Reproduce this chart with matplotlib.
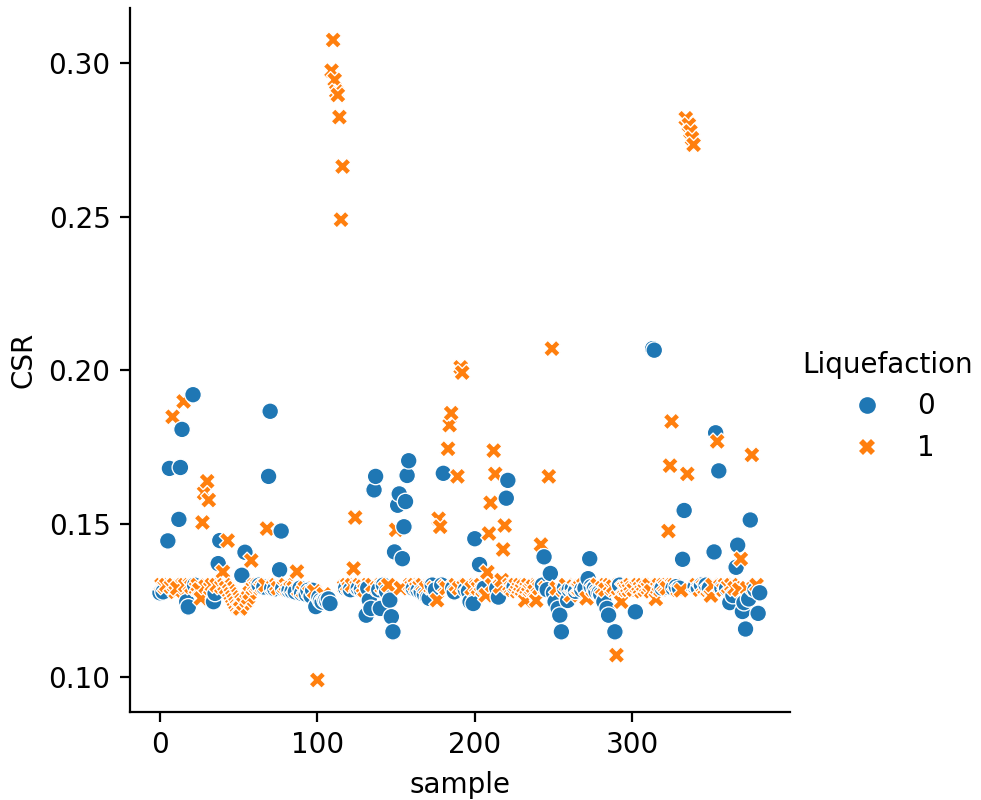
import matplotlib
matplotlib.use("Agg")
import matplotlib.pyplot as plt
import pandas as pd
import seaborn as sns

# CSR value for every sample (10 samples per row)
CSR = [
    0.1275, 0.1300, 0.1278, 0.1295, 0.1300, 0.1444, 0.1680, 0.1295, 0.1848, 0.1300,
    0.1278, 0.1290, 0.1514, 0.1683, 0.1807, 0.1898, 0.1300, 0.1246, 0.1229, 0.1300,
    0.1295, 0.1920, 0.1300, 0.1290, 0.1300, 0.1285, 0.1257, 0.1504, 0.1600, 0.1295,
    0.1638, 0.1577, 0.1290, 0.1300, 0.1246, 0.1273, 0.1300, 0.1370, 0.1445, 0.1295,
    0.1343, 0.1300, 0.1290, 0.1445, 0.1280, 0.1270, 0.1260, 0.1250, 0.1240, 0.1230,
    0.1224, 0.1224, 0.1332, 0.1240, 0.1407, 0.1250, 0.1260, 0.1275, 0.1380, 0.1290,
    0.1300, 0.1295, 0.1300, 0.1300, 0.1290, 0.1295, 0.1294, 0.1300, 0.1484, 0.1654,
    0.1866, 0.1290, 0.1295, 0.1288, 0.1300, 0.1290, 0.1350, 0.1476, 0.1289, 0.1295,
    0.1300, 0.1285, 0.1283, 0.1290, 0.1280, 0.1290, 0.1278, 0.1344, 0.1285, 0.1290,
    0.1273, 0.1280, 0.1290, 0.1270, 0.1283, 0.1275, 0.1265, 0.1283, 0.1280, 0.1230,
    0.0991, 0.1261, 0.1250, 0.1245, 0.1270, 0.1251, 0.1248, 0.1255, 0.1240, 0.2975,
    0.3075, 0.2945, 0.2907, 0.2896, 0.2824, 0.2490, 0.2663, 0.1295, 0.1290, 0.1300,
    0.1290, 0.1285, 0.1300, 0.1354, 0.1520, 0.1295, 0.1290, 0.1300, 0.1285, 0.1295,
    0.1283, 0.1202, 0.1290, 0.1251, 0.1224, 0.1300, 0.1610, 0.1654, 0.1290, 0.1285,
    0.1224, 0.1295, 0.1300, 0.1290, 0.1280, 0.1300, 0.1251, 0.1197, 0.1148, 0.1408,
    0.1480, 0.1560, 0.1597, 0.1290, 0.1386, 0.1490, 0.1572, 0.1657, 0.1705, 0.1300,
    0.1295, 0.1289, 0.1300, 0.1290, 0.1283, 0.1295, 0.1278, 0.1300, 0.1270, 0.1290,
    0.1260, 0.1257, 0.1295, 0.1300, 0.1290, 0.1285, 0.1251, 0.1516, 0.1490, 0.1300,
    0.1664, 0.1295, 0.1290, 0.1744, 0.1821, 0.1860, 0.1290, 0.1278, 0.1300, 0.1654,
    0.1290, 0.2009, 0.1992, 0.1295, 0.1285, 0.1300, 0.1280, 0.1246, 0.1290, 0.1240,
    0.1451, 0.1295, 0.1290, 0.1367, 0.1300, 0.1285, 0.1290, 0.1267, 0.1342, 0.1468,
    0.1568, 0.1300, 0.1738, 0.1662, 0.1290, 0.1261, 0.1295, 0.1316, 0.1416, 0.1494,
    0.1583, 0.1641, 0.1300, 0.1290, 0.1285, 0.1295, 0.1300, 0.1280, 0.1290, 0.1300,
    0.1285, 0.1295, 0.1250, 0.1290, 0.1300, 0.1285, 0.1290, 0.1295, 0.1280, 0.1250,
    0.1295, 0.1290, 0.1432, 0.1300, 0.1392, 0.1290, 0.1285, 0.1654, 0.1338, 0.2070,
    0.1275, 0.1246, 0.1290, 0.1224, 0.1202, 0.1148, 0.1285, 0.1290, 0.1300, 0.1250,
    0.1285, 0.1267, 0.1290, 0.1295, 0.1280, 0.1290, 0.1290, 0.1295, 0.1285, 0.1300,
    0.1290, 0.1257, 0.1321, 0.1386, 0.1295, 0.1285, 0.1290, 0.1280, 0.1300, 0.1275,
    0.1270, 0.1290, 0.1246, 0.1285, 0.1224, 0.1202, 0.1300, 0.1290, 0.1295, 0.1148,
    0.1072, 0.1290, 0.1300, 0.1246, 0.1290, 0.1290, 0.1285, 0.1295, 0.1285, 0.1300,
    0.1290, 0.1285, 0.1213, 0.1295, 0.1300, 0.1290, 0.1280, 0.1300, 0.1285, 0.1295,
    0.1290, 0.1300, 0.1280, 0.2070, 0.2065, 0.1255, 0.1290, 0.1300, 0.1285, 0.1290,
    0.1300, 0.1295, 0.1290, 0.1476, 0.1689, 0.1833, 0.1290, 0.1300, 0.1295, 0.1285,
    0.1290, 0.1283, 0.1384, 0.1543, 0.2820, 0.1662, 0.2799, 0.2777, 0.2755, 0.2734,
    0.1295, 0.1300, 0.1290, 0.1285, 0.1300, 0.1295, 0.1290, 0.1300, 0.1285, 0.1290,
    0.1266, 0.1300, 0.1408, 0.1796, 0.1768, 0.1672, 0.1295, 0.1290, 0.1285, 0.1300,
    0.1290, 0.1295, 0.1243, 0.1300, 0.1266, 0.1290, 0.1358, 0.1430, 0.1285, 0.1385,
    0.1214, 0.1243, 0.1157, 0.1290, 0.1255, 0.1512, 0.1724, 0.1290, 0.1285, 0.1300,
    0.1208, 0.1275,
]

# Liquefaction class per sample (0 = no, 1 = yes), same layout as CSR
LIQ = [
    0, 1, 0, 1, 1, 0, 0, 1, 1, 1,
    1, 1, 0, 0, 0, 1, 1, 0, 0, 1,
    1, 0, 0, 1, 1, 1, 1, 1, 1, 1,
    1, 1, 1, 1, 0, 0, 1, 0, 0, 1,
    1, 1, 1, 1, 1, 1, 1, 1, 1, 1,
    1, 1, 0, 1, 0, 1, 1, 1, 1, 1,
    1, 1, 1, 0, 1, 1, 0, 1, 1, 0,
    0, 0, 1, 0, 1, 1, 0, 0, 0, 1,
    1, 1, 0, 1, 0, 1, 0, 1, 1, 0,
    0, 1, 1, 0, 0, 1, 0, 0, 1, 0,
    1, 0, 0, 0, 1, 0, 0, 0, 0, 1,
    1, 1, 1, 1, 1, 1, 1, 1, 0, 1,
    1, 0, 1, 1, 1, 1, 0, 1, 0, 1,
    1, 0, 0, 0, 0, 1, 0, 0, 1, 0,
    0, 1, 0, 1, 0, 1, 0, 0, 0, 0,
    1, 0, 0, 1, 0, 0, 0, 0, 0, 1,
    1, 0, 1, 1, 0, 1, 0, 1, 0, 1,
    0, 0, 1, 0, 1, 0, 1, 1, 1, 0,
    0, 1, 1, 1, 1, 1, 0, 0, 1, 1,
    1, 1, 1, 1, 0, 1, 0, 0, 1, 0,
    0, 1, 1, 0, 1, 1, 0, 1, 1, 1,
    1, 1, 1, 1, 0, 0, 1, 1, 1, 1,
    0, 0, 1, 1, 1, 0, 1, 1, 1, 1,
    1, 1, 1, 1, 1, 1, 1, 1, 1, 1,
    1, 1, 1, 0, 0, 1, 0, 1, 0, 1,
    0, 0, 1, 0, 0, 0, 1, 0, 1, 0,
    0, 1, 0, 1, 0, 1, 1, 1, 0, 1,
    0, 1, 0, 0, 0, 1, 0, 0, 1, 0,
    0, 1, 0, 1, 0, 0, 1, 1, 1, 0,
    1, 1, 0, 1, 1, 1, 1, 1, 1, 1,
    1, 1, 0, 1, 1, 1, 1, 1, 1, 1,
    1, 1, 1, 0, 0, 1, 1, 1, 1, 0,
    1, 1, 1, 1, 1, 1, 0, 1, 0, 1,
    0, 1, 0, 0, 1, 1, 1, 1, 1, 1,
    0, 1, 0, 1, 0, 1, 1, 0, 1, 0,
    1, 1, 0, 0, 1, 0, 1, 0, 1, 1,
    0, 1, 0, 1, 0, 1, 0, 0, 1, 1,
    0, 0, 0, 1, 0, 0, 1, 1, 0, 1,
    0, 0,
]

df = pd.DataFrame({
    "sample": range(len(CSR)),
    "CSR": CSR,
    "Liquefaction": [str(v) for v in LIQ],
})

g = sns.relplot(data=df, x="sample", y="CSR", hue="Liquefaction",
                style="Liquefaction", hue_order=["0", "1"],
                style_order=["0", "1"], kind="scatter", height=4, aspect=1)

# 981 x 800 px at 200 dpi
g.figure.set_size_inches(981 / 200, 800 / 200)
g.figure.subplots_adjust(left=0.1325, right=0.805, bottom=0.11, top=0.99)
g.ax.set_xticks([0, 100, 200, 300])
g.ax.set_yticks([0.10, 0.15, 0.20, 0.25, 0.30])

# legend sits a little further right and lower in the reference
g._legend.set_bbox_to_anchor((1.017, 0.492), transform=g.figure.transFigure)

g.figure.savefig("out.png", dpi=200)
